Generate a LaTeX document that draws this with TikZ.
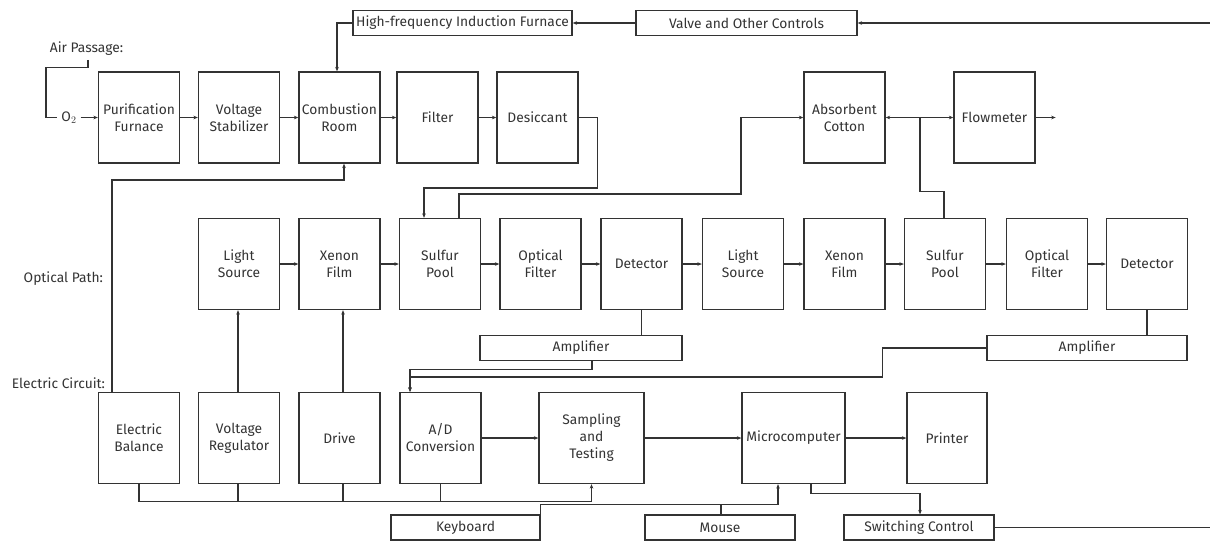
\documentclass[tikz,border=0pt]{standalone}
\usepackage{fontspec}
\setmainfont{Fira Sans}
\usetikzlibrary{arrows.meta}

\tikzset{
  txt/.style={font=\fontsize{13.8}{17}\selectfont},
  blk/.style={draw, txt, minimum width=81pt, minimum height=91pt, inner sep=1pt, align=center},
  bar/.style={draw, txt, minimum height=25pt, inner sep=1pt},
  arr/.style={-{Stealth[length=4.5pt,width=3.6pt]}}
}

\begin{document}
\begin{tikzpicture}[x=1pt, y=-1pt, line width=1.3pt, color=black!80]
    \useasboundingbox (0,0) rectangle (1210,542);

    % Labels
    \node[txt] (airlbl) at (86.5,49) {Air Passage:};
    \node[txt] (o2) at (69,117.5) {O$_2$};
    \node[txt, anchor=east] (optlbl) at (107,279) {Optical Path:};
    \node[txt, anchor=east] (elclbl) at (109,383) {Electric Circuit:};

    % Air passage
    \node[blk] (purif) at (139,117.5) {Purification\\Furnace};
    \node[blk] (volt) at (239,117.5) {Voltage\\Stabilizer};
    \node[blk] (comb) at (339.5,117.5) {Combustion\\Room};
    \node[blk] (filt) at (437.5,117.5) {Filter};
    \node[blk] (desic) at (537.5,117.5) {Desiccant};
    \node[blk] (absorb) at (844.5,117.5) {Absorbent\\Cotton};
    \node[blk] (flow) at (994.5,117.5) {Flowmeter};
    \node[bar, minimum width=219pt] (hf) at (462.5,23) {High-frequency Induction Furnace};
    \node[bar, minimum width=221pt] (valve) at (746.5,23) {Valve and Other Controls};

    % Optical path
    \node[blk] (ls1) at (239,264) {Light\\Source};
    \node[blk] (xf1) at (339.5,264) {Xenon\\Film};
    \node[blk] (sp1) at (440,264) {Sulfur\\Pool};
    \node[blk] (of1) at (540.5,264) {Optical\\Filter};
    \node[blk] (det1) at (641.5,264) {Detector};
    \node[blk] (ls2) at (743,264) {Light\\Source};
    \node[blk] (xf2) at (844.5,264) {Xenon\\Film};
    \node[blk] (sp2) at (945,264) {Sulfur\\Pool};
    \node[blk] (of2) at (1047,264) {Optical\\Filter};
    \node[blk] (det2) at (1147,264) {Detector};
    \node[bar, minimum width=202pt] (amp1) at (581,348) {Amplifier};
    \node[bar, minimum width=200pt] (amp2) at (1087,348) {Amplifier};

    % Electric circuit
    \node[blk] (eb) at (139,438) {Electric\\Balance};
    \node[blk] (vr) at (239,438) {Voltage\\Regulator};
    \node[blk] (drv) at (339.5,438) {Drive};
    \node[blk] (ad) at (440.5,438) {A/D\\Conversion};
    \node[blk, minimum width=105pt] (samp) at (591.5,438) {Sampling\\and\\Testing};
    \node[blk, minimum width=103pt] (micro) at (793.5,438) {Microcomputer};
    \node[blk, minimum width=80pt] (prn) at (947,438) {Printer};
    \node[bar, minimum width=149pt] (kbd) at (465.5,527.5) {Keyboard};
    \node[bar, minimum width=150pt] (mouse) at (720,527.5) {Mouse};
    \node[bar, minimum width=150pt] (sw) at (919,527.5) {Switching Control};

    \coordinate (vin) at (1210,23);
    \coordinate (swout) at (1210,527.5);
    \coordinate (jn) at (920,117.5);

    % Gas flow
    \draw ([xshift=1.5pt]airlbl.south) -- ++(0,8) -| (46,117.5) -- (o2.west);
    \draw[arr] (o2.east) -- (purif.west);
    \foreach \a/\b in {purif/volt, volt/comb, comb/filt, filt/desic}
        \draw[arr] (\a) -- (\b);
    \draw[arr] (desic.east) -- ++(19,0) -- ++(0,70.5) -| ([xshift=-16pt]sp1.north);
    \draw[arr] ([xshift=19pt]sp1.north) -- ++(0,-24) -| (741,117.5) -- (absorb.west);
    \draw[arr] (jn) -- (absorb.east);
    \draw[arr] (jn) -- (flow.west);
    \draw (jn) -- ++(0,74) -| ([xshift=-1pt]sp2.north);
    \draw[arr] (flow.east) -- ++(20,0);

    % Controls
    \draw[arr] (vin) -- (valve.east);
    \draw[arr] (valve.west) -- (hf.east);
    \draw[arr] (hf.west) -| ([xshift=-2.5pt]comb.north);
    \draw[arr] ([xshift=-27pt]eb.north) -- ++(0,-212) -| ([xshift=4.5pt]comb.south);

    % Optical path
    \foreach \a/\b in {ls1/xf1, xf1/sp1, sp1/of1, of1/det1, det1/ls2, ls2/xf2, xf2/sp2, sp2/of2, of2/det2}
        \draw[arr] (\a) -- (\b);
    \draw[arr] ([xshift=-1pt]vr.north) -- ([xshift=-1pt]ls1.south);
    \draw[arr] ([xshift=3.5pt]drv.north) -- ([xshift=3.5pt]xf1.south);
    \draw (det1.south) -- (det1.south |- amp1.north);
    \draw (det2.south) -- (det2.south |- amp2.north);
    \draw[arr] ([xshift=11pt]amp1.south) -- ++(0,8) -| ([xshift=-30.5pt]ad.north);
    \draw[arr] (amp2.west) -- ++(-104,0) -- ++(0,29) -| ([xshift=-30.5pt]ad.north);

    % Electric circuit
    \foreach \a/\b in {ad/samp, samp/micro, micro/prn}
        \draw[arr] (\a) -- (\b);
    \draw[arr] (eb.south) -- ++(0,17) -| (samp.south);
    \draw ([xshift=-1pt]vr.south) -- ++(0,17);
    \draw ([xshift=3.5pt]drv.south) -- ++(0,17);
    \draw (ad.south) -- ++(0,17);
    \draw[arr] (kbd.north east) -- ++(0,-10) -| ([xshift=-15.5pt]micro.south);
    \draw ([xshift=1pt]mouse.north) -- ++(0,-10);
    \draw[arr] ([xshift=17.5pt]micro.south) -- ++(0,9) -| ([xshift=1pt]sw.north);
    \draw (sw.east) -- (swout);
\end{tikzpicture}
\end{document}
